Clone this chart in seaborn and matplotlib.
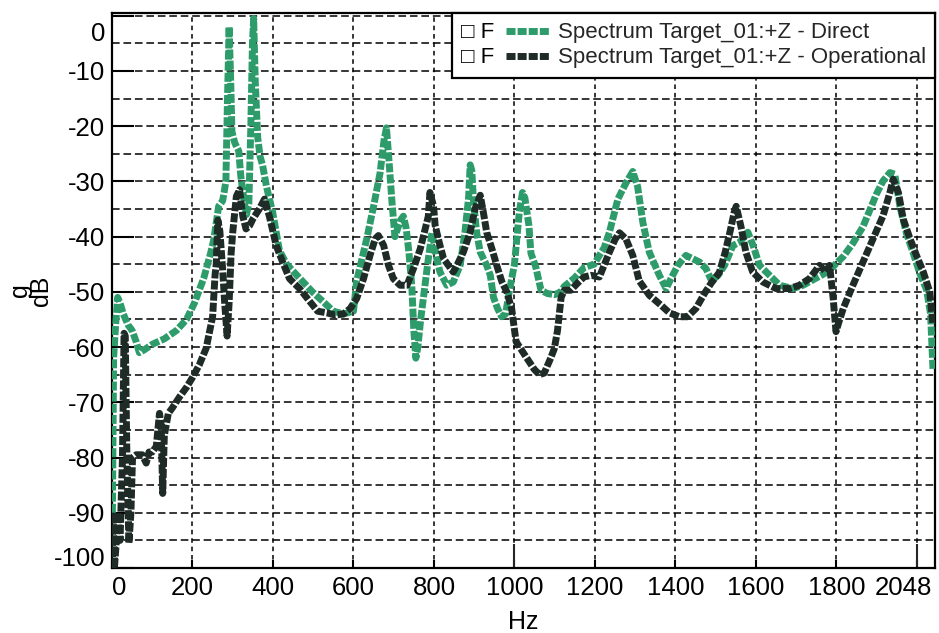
import matplotlib
matplotlib.use("Agg")
import matplotlib.pyplot as plt
import matplotlib.transforms as mtransforms
from matplotlib.legend_handler import HandlerBase
from matplotlib.lines import Line2D
from matplotlib.text import Text
import pandas as pd
import seaborn as sns

# ---------------- data ----------------
direct_hz = [1, 4, 9, 14, 20, 28, 40, 50, 60, 68, 80, 100, 130, 160, 185, 205, 228, 245, 253,
             265, 275, 283, 287, 291, 295, 298, 305, 315, 320, 327, 334, 340, 345, 349, 352,
             356, 362, 368, 374, 384, 399, 416, 434, 466, 498, 525, 550, 575, 600, 608, 633,
             650, 666, 676, 682, 688, 696, 703, 710, 717, 724, 731, 738, 745, 750, 755, 760,
             767, 774, 786, 795, 801, 807, 815, 832, 848, 865, 877, 886, 890, 894, 898, 906,
             915, 931, 940, 948, 958, 968, 978, 987, 1000, 1012, 1020, 1026, 1036, 1041, 1053,
             1066, 1082, 1100, 1115, 1124, 1149, 1173, 1198, 1211, 1223, 1236, 1257, 1277,
             1294, 1306, 1319, 1335, 1360, 1377, 1389, 1406, 1426, 1443, 1460, 1476, 1490,
             1506, 1522, 1543, 1560, 1580, 1593, 1609, 1634, 1659, 1692, 1717, 1750, 1775,
             1792, 1817, 1841, 1866, 1883, 1900, 1916, 1933, 1945, 1958, 1974, 1991, 2007,
             2024, 2034, 2040]
direct_db = [-90, -62, -56, -51, -52, -54, -56, -57, -59, -61, -60.5, -59.5, -58.5, -57, -55,
             -52, -47.5, -43, -40.5, -34.5, -33.5, -30, -15, -2, -12, -21, -23, -24.5, -29,
             -33, -36, -34, -20, -5, -0.5, -12, -22, -25.5, -27, -31, -35.5, -42.5, -45, -47.5,
             -50, -51.8, -53.5, -54, -53.5, -48, -40.4, -34.5, -28.5, -22.5, -20.3, -26, -34,
             -40, -38.5, -37, -36.3, -38.5, -43, -49, -57, -62, -60, -55, -51, -44, -39.3,
             -41.5, -44, -46.4, -48.8, -48.2, -45.2, -39.2, -33, -27, -28, -33.3, -39.2, -42.8,
             -45.2, -47, -51, -53, -54.5, -54, -50, -45, -35.6, -32, -33, -38, -43, -45.5,
             -49.7, -50.3, -50.5, -50, -49, -47.5, -45.6, -45, -43.4, -42, -39.2, -33.2, -30.3,
             -28.2, -30.9, -37.4, -42.8, -47, -49.4, -47.6, -45.2, -43.4, -44, -44.6, -45.8,
             -48, -47, -45.2, -41.6, -41, -39.2, -41.6, -45.2, -47, -48.8, -49.4, -48.8, -47.5,
             -46.5, -45.4, -43.6, -41.2, -38.2, -35.2, -32.2, -29.9, -28.4, -28.7, -34.6,
             -39.4, -43, -46.6, -49.6, -54, -64]

oper_hz = [0, 3, 6, 10, 15, 20, 26, 30, 33, 37, 42, 47, 51, 60, 75, 85, 92, 100, 110, 118,
           122, 126, 130, 140, 150, 168, 185, 200, 217, 234, 250, 256, 259, 263, 268, 275,
           280, 286, 291, 296, 300, 309, 317, 325, 333, 342, 350, 366, 379, 391, 408, 424,
           441, 466, 491, 511, 534, 555, 575, 592, 608, 625, 641, 654, 662, 675, 687, 699,
           716, 733, 749, 766, 778, 786, 790, 799, 803, 815, 824, 836, 848, 857, 873, 890,
           902, 915, 923, 931, 944, 956, 969, 981, 993, 1004, 1029, 1049, 1062, 1074, 1090,
           1099, 1107, 1116, 1124, 1140, 1157, 1173, 1190, 1211, 1236, 1250, 1261, 1277,
           1294, 1310, 1335, 1364, 1385, 1410, 1430, 1451, 1472, 1489, 1509, 1523, 1536,
           1546, 1551, 1563, 1575, 1592, 1617, 1650, 1683, 1708, 1733, 1758, 1774, 1783,
           1792, 1799, 1806, 1817, 1841, 1866, 1891, 1916, 1933, 1941, 1954, 1966, 1983,
           1999, 2016, 2032, 2040]
oper_db = [-100, -90, -100, -96, -90, -95, -80, -57.5, -58, -80, -95.5, -90, -80, -79.5, -79.5,
           -81, -79, -79, -78, -72, -74, -86.5, -76, -72, -71, -69, -67.3, -65.5, -63.2,
           -60.2, -54.5, -47, -45, -37, -39, -46, -52, -58, -52, -43, -39.2, -32.7, -31.5,
           -36.3, -38.6, -38, -36.8, -35, -33.2, -36.3, -41.6, -44.6, -47.6, -49.4, -51.7,
           -53.5, -53.8, -54.2, -54, -53, -51.2, -47.6, -43.4, -40.4, -39.8, -41.6, -45.2,
           -47.6, -48.8, -48.8, -45.8, -42.2, -38.7, -36.3, -32, -34.5, -38, -41.6, -44,
           -45.2, -46.4, -45.2, -42.8, -39.2, -35, -32.5, -35.7, -39.2, -42.2, -45.2, -48.2,
           -50, -53, -59, -61.8, -64, -65, -64.7, -62, -60.3, -57, -51, -49.7, -49.7, -48.4,
           -47.3, -47, -47.3, -42.8, -40.5, -39.3, -40.4, -43.4, -48, -50.6, -52.4, -53.8,
           -54.5, -54.5, -53, -50.3, -48.4, -46.5, -43, -39, -35.6, -34.5, -38.2, -42.8,
           -46.4, -48.2, -49.4, -49.4, -48.8, -47.6, -45.2, -46.4, -45.2, -51.2, -57.2, -55.5,
           -53, -48.8, -44.6, -40.4, -36.2, -32, -29.6, -32, -36.8, -40.4, -43.4, -46.4, -50,
           -56]

x_ticks = [0, 200, 400, 600, 800, 1000, 1200, 1400, 1600, 1800, 2000]
x_tick_labels = ["0", "200", "400", "600", "800", "1000", "1200", "1400", "1600", "1800", "2048"]
y_ticks = [-100, -90, -80, -70, -60, -50, -40, -30, -20, -10, 0]
y_grid_minor = [-95, -85, -75, -65, -55, -45, -35, -25, -15, -5]
series_labels = ["Spectrum Target_01:+Z - Direct", "Spectrum Target_01:+Z - Operational"]
legend_prefix = "\u25a1 F"

# ---------------- style ----------------
sns.set_style("white")
plt.rcParams["font.family"] = ["Liberation Sans", "DejaVu Sans"]

GREEN = "#2E9C6A"
DARK = "#1F2B27"
LW = 5.0
DASH = (0, (1.3, 0.3))

fig = plt.figure(figsize=(9.39, 6.33), dpi=100)
ax = fig.add_axes([112 / 939, 1 - 568 / 633, (935 - 112) / 939, (568 - 13) / 633])

df_d = pd.DataFrame({"Hz": direct_hz, "dB": direct_db})
df_o = pd.DataFrame({"Hz": oper_hz, "dB": oper_db})
sns.lineplot(data=df_d, x="Hz", y="dB", ax=ax, color=GREEN, linewidth=LW,
             linestyle=DASH, estimator=None, sort=False, zorder=3)
sns.lineplot(data=df_o, x="Hz", y="dB", ax=ax, color=DARK, linewidth=LW,
             linestyle=DASH, estimator=None, sort=False, zorder=4)

ax.set_xlim(0, 2045)
ax.set_ylim(-100, 0.5)

for s in ax.spines.values():
    s.set_color("black")
    s.set_linewidth(1.6)
    s.set_visible(True)

ax.xaxis.remove_overlapping_locs = False
ax.set_xticks(x_ticks)
ax.set_xticklabels(x_tick_labels)
ax.set_xticks([1000, 2000], minor=True)
ax.set_yticks(y_ticks)
ax.set_yticklabels([str(v) for v in y_ticks])
ax.set_yticks(y_grid_minor, minor=True)

ax.set_axisbelow(True)
ax.grid(True, which="both", axis="y", color="black", linestyle=(0, (5, 2.5)), linewidth=1.1)
ax.grid(True, which="major", axis="x", color="black", linestyle=(0, (3, 2.5)), linewidth=1.1)

ax.tick_params(axis="y", which="major", direction="in", length=16, width=1.5,
               labelsize=18.5, pad=5, colors="black", left=True)
ax.tick_params(axis="y", which="minor", length=0)
ax.tick_params(axis="x", which="major", direction="in", length=6, width=1.5,
               labelsize=18.5, pad=6, colors="black", bottom=True)
ax.tick_params(axis="x", which="minor", direction="in", length=17, width=1.5, bottom=True)

ax.set_xlabel("Hz", fontsize=18, labelpad=7, color="black")
ax.set_ylabel("g\ndB", fontsize=18, labelpad=0, linespacing=0.85, color="black")

# end tick labels pulled inward like the reference
def shift(label, dx_px, dy_px):
    label.set_transform(label.get_transform() +
                        mtransforms.ScaledTranslation(dx_px / 100, dy_px / 100, fig.dpi_scale_trans))

yt = ax.yaxis.get_major_ticks()
shift(yt[0].label1, 0, 11)
shift(yt[-1].label1, 0, -16)
xt = ax.xaxis.get_major_ticks()
shift(xt[0].label1, 7, 0)
shift(xt[-1].label1, -13, 0)


# legend with "□ F" prefix before each line sample
class PrefixLineHandler(HandlerBase):
    def __init__(self, prefix, **kw):
        super().__init__(**kw)
        self.prefix = prefix

    def create_artists(self, legend, orig_handle, xdescent, ydescent, width, height,
                       fontsize, trans):
        txt = Text(-xdescent, -ydescent + 0.5, self.prefix, fontsize=fontsize,
                   ha="left", va="baseline", color="black",
                   family=["Liberation Sans", "DejaVu Sans"])
        txt.set_transform(trans)
        y = (height - ydescent) / 2
        line = Line2D([-xdescent + 0.51 * width, -xdescent + width], [y, y])
        line.update_from(orig_handle)
        line.set_transform(trans)
        return [txt, line]


handles = [Line2D([], [], color=GREEN, lw=LW, linestyle=DASH),
           Line2D([], [], color=DARK, lw=LW, linestyle=DASH)]
leg = ax.legend(handles, series_labels, loc="upper right", borderaxespad=0,
                fancybox=False, framealpha=1, edgecolor="black", fontsize=16,
                handlelength=4.0, handletextpad=0.35, labelspacing=0.18, borderpad=0.42,
                handler_map={h: PrefixLineHandler(legend_prefix) for h in handles})
leg.get_frame().set_linewidth(1.6)
leg.set_zorder(10)

fig.savefig("out.png", dpi=100)
